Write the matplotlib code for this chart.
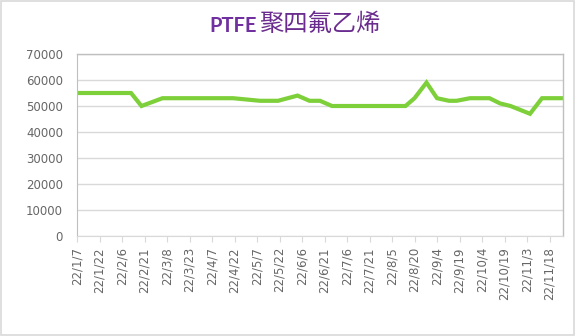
import matplotlib
matplotlib.use("Agg")
import matplotlib.pyplot as plt
import pandas as pd
from matplotlib.patches import Rectangle

plt.rcParams['font.family'] = ['DejaVu Sans', 'Noto Sans CJK SC']

title_latin = "PTFE"
title_cjk = "聚四氟乙烯"
dates = ["2022-01-07", "2022-02-12", "2022-02-19", "2022-03-05", "2022-04-21",
         "2022-05-09", "2022-05-21", "2022-06-03", "2022-06-11", "2022-06-18",
         "2022-06-26", "2022-08-14", "2022-08-20", "2022-08-28", "2022-09-04",
         "2022-09-12", "2022-09-17", "2022-09-26", "2022-10-09", "2022-10-16",
         "2022-10-23", "2022-11-05", "2022-11-13", "2022-11-27"]
values = [55000, 55000, 50000, 53000, 53000,
          52000, 52000, 54000, 52000, 52000,
          50000, 50000, 53000, 59000, 53000,
          52000, 52000, 53000, 53000, 51000,
          50000, 47000, 53000, 53000]
tick_dates = pd.date_range("2022-01-07", "2022-11-18", freq="15D")
tick_labels = [f"{d.year % 100}/{d.month}/{d.day}" for d in tick_dates]
y_ticks = list(range(0, 70001, 10000))

x = pd.to_datetime(dates)

fig = plt.figure(figsize=(5.77, 3.36), dpi=100)
fig.patches.append(Rectangle((0.002, 0.003), 0.992, 0.994, transform=fig.transFigure,
                             fill=False, edgecolor="#D9D9D9", linewidth=1.2))
ax = fig.add_axes([77/577, 1-236/336, (563-77)/577, (236-54)/336])

ax.plot(x, values, color="#7ED03A", linewidth=3.0, solid_joinstyle="miter")

ax.set_xlim(pd.Timestamp("2022-01-07"), pd.Timestamp("2022-11-27"))
ax.set_ylim(0, 70000)
ax.set_yticks(y_ticks)
ax.set_yticklabels([str(v) for v in y_ticks])
ax.set_xticks(tick_dates)
ax.set_xticklabels(tick_labels, rotation=90)

ax.grid(axis="y", color="#D9D9D9", linewidth=1.0)
ax.set_axisbelow(True)
for s in ["top", "right"]:
    ax.spines[s].set_color("#BFBFBF")
    ax.spines[s].set_linewidth(1.0)
ax.spines["left"].set_color("#BFBFBF")
ax.spines["bottom"].set_color("#D9D9D9")
ax.tick_params(axis="y", length=0, pad=10, labelsize=8.5, labelcolor="#666666")
ax.tick_params(axis="x", length=4, color="#D9D9D9", pad=4, labelsize=8.5, labelcolor="#666666")

fig.text(257/577, 1-32/336, title_latin, ha="right", va="baseline", fontsize=14.5,
         color="#7030A0", fontweight="bold", family=["Lato", "DejaVu Sans"])
fig.text(259/577, 1-31/336, title_cjk, ha="left", va="baseline", fontsize=17.5,
         color="#6A2C8E", family=["Noto Sans CJK SC", "DejaVu Sans"])

fig.savefig("out.png", dpi=100)
